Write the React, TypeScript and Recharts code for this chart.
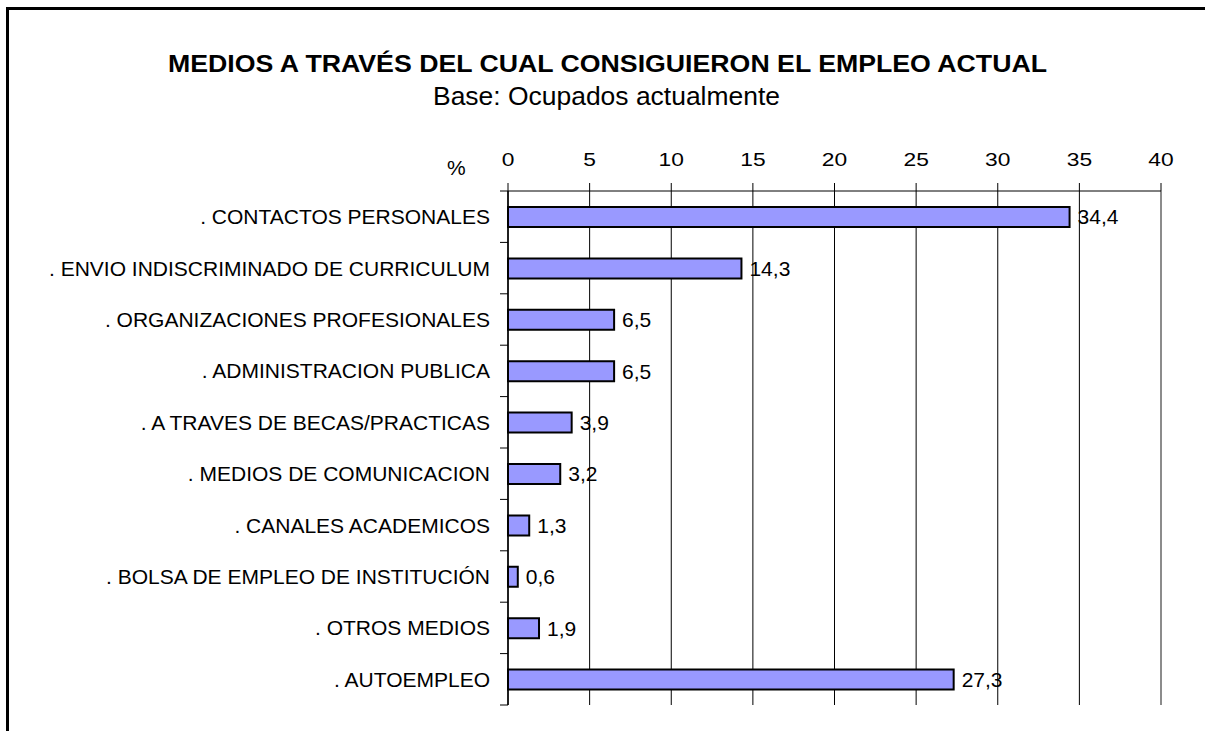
import React, { useLayoutEffect } from 'react';
import { BarChart, Bar, XAxis, YAxis, CartesianGrid, LabelList, ReferenceLine } from 'recharts';

const categories = [
  '. CONTACTOS PERSONALES',
  '. ENVIO INDISCRIMINADO DE CURRICULUM',
  '. ORGANIZACIONES PROFESIONALES',
  '. ADMINISTRACION PUBLICA',
  '. A TRAVES DE BECAS/PRACTICAS',
  '. MEDIOS DE COMUNICACION',
  '. CANALES ACADEMICOS',
  '. BOLSA DE EMPLEO DE INSTITUCIÓN',
  '. OTROS MEDIOS',
  '. AUTOEMPLEO',
];
const values = [34.4, 14.3, 6.5, 6.5, 3.9, 3.2, 1.3, 0.6, 1.9, 27.3];
const xTicks = [0, 5, 10, 15, 20, 25, 30, 35, 40];

const data = categories.map((name, i) => ({ name, value: values[i] }));

const FONT = '"Liberation Sans", Arial, sans-serif';
const W = 1205;
const H = 731;
const MARGIN = { top: 161, right: 44, bottom: 26, left: 8 };
const X_AXIS_H = 30;
const PLOT_H = H - MARGIN.top - X_AXIS_H - MARGIN.bottom;
const HALF_BAND = PLOT_H / categories.length / 2;

const fmt = (v: any) => Number(v).toFixed(1).replace('.', ',');

const CategoryTick = (props: any) => {
  const { x, y, payload, index } = props;
  return (
    <g>
      <text x={x} y={y} dy="0.36em" textAnchor="end" fontSize={21} fontFamily={FONT} fill="#000">
        {payload.value}
      </text>
      {index === 0 && (
        <line x1={x + 10} x2={x + 18} y1={y - HALF_BAND} y2={y - HALF_BAND} stroke="#000" strokeWidth={1} />
      )}
      <line x1={x + 10} x2={x + 18} y1={y + HALF_BAND} y2={y + HALF_BAND} stroke="#000" strokeWidth={1} />
    </g>
  );
};

const ValueTick = (props: any) => {
  const { x, y, payload } = props;
  return (
    <text
      transform={`translate(${x},${y}) scale(1.2,1)`}
      textAnchor="middle"
      fontSize={19}
      fontFamily={FONT}
      fill="#000"
    >
      {payload.value}
    </text>
  );
};

export default function App() {
  useLayoutEffect(() => {
    document.body.style.margin = '0';
    document.documentElement.style.overflow = 'hidden';
    document.body.style.overflow = 'hidden';
  }, []);
  return (
    <div style={{ position: 'relative', width: W, height: H, overflow: 'hidden', background: '#fff' }}>
      <div
        style={{
          position: 'absolute',
          left: 6,
          top: 7,
          width: 1300,
          height: 800,
          boxSizing: 'border-box',
          borderLeft: '3px solid #000',
          borderTop: '3px solid #000',
        }}
      />
      <svg width={W} height={H} style={{ position: 'absolute', left: 0, top: 0 }}>
        <text x={168} y={72} fontSize={24} fontWeight="bold" fontFamily={FONT} fill="#000" textLength={879} lengthAdjust="spacingAndGlyphs">
          MEDIOS A TRAVÉS DEL CUAL CONSIGUIERON EL EMPLEO ACTUAL
        </text>
        <text x={433} y={105} fontSize={25} fontFamily={FONT} fill="#000" textLength={347} lengthAdjust="spacingAndGlyphs">
          Base: Ocupados actualmente
        </text>
        <text x={447} y={175} fontSize={21} fontFamily={FONT} fill="#000">
          %
        </text>
      </svg>
      <div style={{ position: 'absolute', left: 0, top: 0 }}>
        <BarChart width={W} height={H} data={data} layout="vertical" margin={MARGIN}>
          <CartesianGrid xAxisId="top" horizontal={false} stroke="#000" strokeWidth={1} />
          <XAxis
            xAxisId="top"
            type="number"
            orientation="top"
            domain={[0, 40]}
            ticks={xTicks}
            height={X_AXIS_H}
            tickSize={8}
            tickMargin={17}
            axisLine={{ stroke: '#000', strokeWidth: 1 }}
            tickLine={{ stroke: '#000' }}
            tick={ValueTick}
            interval={0}
          />
          <XAxis
            xAxisId="bottom"
            type="number"
            orientation="bottom"
            domain={[0, 40]}
            height={0}
            tick={false}
            tickLine={false}
            axisLine={{ stroke: '#8c8c8c', strokeWidth: 2 }}
          />
          <YAxis
            dataKey="name"
            type="category"
            width={500}
            tickSize={8}
            tickMargin={10}
            tickLine={false}
            axisLine={{ stroke: '#000', strokeWidth: 1.5 }}
            tick={CategoryTick}
            interval={0}
          />
          <ReferenceLine xAxisId="top" x={40} stroke="#8c8c8c" strokeWidth={2} />
          <Bar
            xAxisId="top"
            dataKey="value"
            fill="#9999FF"
            stroke="#000"
            strokeWidth={2}
            barSize={20}
            isAnimationActive={false}
          >
            <LabelList
              dataKey="value"
              position="right"
              offset={8}
              formatter={fmt}
              fill="#000"
              fontSize={21}
              fontFamily={FONT}
            />
          </Bar>
        </BarChart>
      </div>
    </div>
  );
}
